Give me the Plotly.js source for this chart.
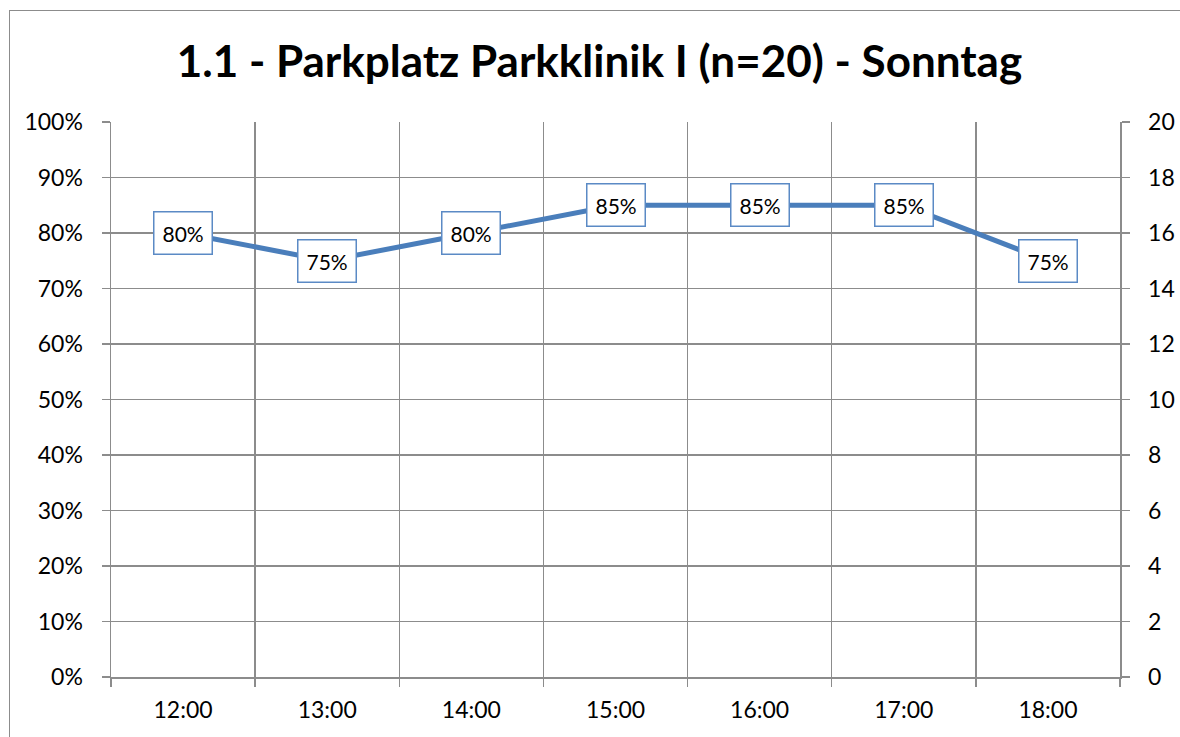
<!DOCTYPE html>
<html>
<head>
<meta charset="utf-8">
<script src="https://cdn.plot.ly/plotly-3.0.1.min.js"></script>
<style>
html,body{margin:0;padding:0;background:#fff;}
#wrap{position:relative;width:1180px;height:737px;}
#chart{width:1180px;height:737px;}
#frame{position:absolute;left:9px;top:10px;width:1200px;height:800px;border-left:1.5px solid #8c8c8c;border-top:1.5px solid #8c8c8c;pointer-events:none;}
</style>
</head>
<body>
<div id="wrap"><div id="chart"></div><div id="frame"></div></div>
<script>
const titleText = "1.1 - Parkplatz Parkklinik I (n=20) - Sonntag";
const times = ["12:00","13:00","14:00","15:00","16:00","17:00","18:00"];
const occupancy = [0.80, 0.75, 0.80, 0.85, 0.85, 0.85, 0.75];
const capacity = 20;
const counts = [16, 15, 16, 17, 17, 17, 15];

const font = "Lato, 'Open Sans', sans-serif";
const gridColor = "#8c8c8c";
const lineColor = "#4a7ebb";

const annotations = times.map((t, i) => ({
  x: t, y: occupancy[i], xref: "x", yref: "y",
  text: Math.round(occupancy[i] * 100) + "%",
  showarrow: false,
  bgcolor: "#ffffff",
  bordercolor: "#5b8ac5",
  borderwidth: 1.5,
  borderpad: 8,
  font: {family: font, size: 21, color: "#000"},
  xanchor: "center", yanchor: "middle"
}));

const traces = [
  {x: times, y: occupancy, type: "scatter", mode: "lines",
   line: {color: lineColor, width: 5}, hoverinfo: "skip", showlegend: false},
  {x: times, y: counts, type: "scatter", mode: "lines", yaxis: "y2",
   line: {color: "rgba(0,0,0,0)", width: 0}, hoverinfo: "skip", showlegend: false}
];

const tickFont = {family: font, size: 23, color: "#000"};

const layout = {
  width: 1180, height: 737,
  margin: {l: 111, r: 60, t: 122, b: 60},
  paper_bgcolor: "#fff", plot_bgcolor: "#fff",
  showlegend: false,
  title: {text: "<b>" + titleText + "</b>", x: 0.508, xanchor: "center", y: 0.917, yanchor: "middle",
          font: {family: font, size: 44, color: "#000"}},
  xaxis: {
    type: "category", range: [-0.5, 6.5], tickson: "boundaries",
    showgrid: true, gridcolor: gridColor, gridwidth: 1.5,
    showline: true, linecolor: gridColor, linewidth: 1.5, mirror: false,
    ticks: "outside", ticklen: 8, tickcolor: gridColor, tickwidth: 1.5,
    ticklabelstandoff: 12,
    tickfont: tickFont, zeroline: false, fixedrange: true
  },
  yaxis: {
    range: [0, 1], dtick: 0.1, tickformat: ".0%",
    showgrid: true, gridcolor: gridColor, gridwidth: 1.5,
    showline: true, linecolor: gridColor, linewidth: 1.5,
    ticks: "outside", ticklen: 8, tickcolor: gridColor, tickwidth: 1.5,
    ticklabelstandoff: 14,
    tickfont: tickFont, zeroline: false, fixedrange: true
  },
  yaxis2: {
    overlaying: "y", side: "right", range: [0, capacity], dtick: 2,
    showgrid: false, showline: true, linecolor: gridColor, linewidth: 1.5,
    ticks: "outside", ticklen: 8, tickcolor: gridColor, tickwidth: 1.5,
    ticklabelstandoff: 14,
    tickfont: tickFont, zeroline: false, fixedrange: true
  },
  annotations: annotations
};

Plotly.newPlot("chart", traces, layout, {staticPlot: true, displayModeBar: false});
</script>
</body>
</html>
